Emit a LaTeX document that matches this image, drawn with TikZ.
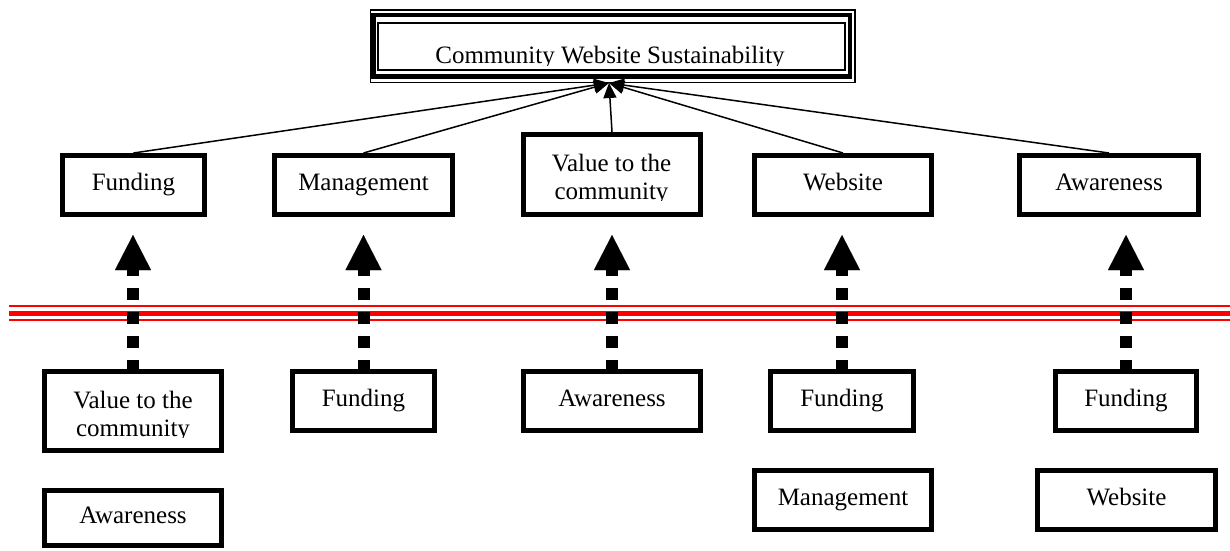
\documentclass[tikz,border=0pt]{standalone}
\usepackage{fontspec}
\setmainfont{Liberation Serif}
\usetikzlibrary{arrows.meta}
\begin{document}
\begin{tikzpicture}[x=1pt,y=-1pt,
  font=\fontsize{25pt}{28pt}\selectfont,
  box/.style={draw=black,line width=5pt,rectangle,inner sep=0pt,
    text height=17pt,text depth=5.5pt},
  txt/.style={inner sep=0pt,anchor=base},
  link/.style={line width=1.5pt,-{Triangle[length=15pt,width=13pt]}},
  dep/.style={line width=12pt,dash pattern=on 12pt off 12pt,dash phase=3pt,
    -{Triangle[length=35pt,width=36pt,line width=0.01pt]}},
  redline/.style={draw=red}
]
\useasboundingbox (0,0) rectangle (1230,550);

% title box (triple frame)
\node[draw=black,line width=1.5pt,minimum width=484.5pt,minimum height=72.5pt,inner sep=0pt]
  (top) at (612.75,46.25) {};
\draw[line width=4.5pt] (373.5,15) rectangle (850,76.7);
\draw[line width=2pt] (377.5,22.8) rectangle (844.5,69.5);
\begin{scope}
  \clip (379,24) rectangle (843,65);
  \node[txt] (toptext) at (610,63) {Community Website Sustainability};
\end{scope}
\coordinate (conv) at (609,83);

% first row
\node[box,minimum width=142pt,minimum height=59pt] (tFund) at (133.5,185) {Funding};
\node[box,minimum width=178pt,minimum height=59pt] (tMan) at (363.5,185) {Management};
\node[box,minimum width=177pt,minimum height=80pt] (tVal) at (612,174.5) {};
\begin{scope}
  \clip (524,135) rectangle (700,200.5);
  \node[txt] (tValtext) at (611.5,171.5) {\begin{tabular}[t]{@{}c@{}}Value to the\\community\end{tabular}};
\end{scope}
\node[box,minimum width=177pt,minimum height=59pt] (tWeb) at (843,185) {Website};
\node[box,minimum width=179pt,minimum height=59pt] (tAwa) at (1109,185) {Awareness};

\draw[link] (tFund.north) -- (conv);
\draw[link] (tMan.north) -- (conv);
\draw[link] (tVal.north) -- (conv);
\draw[link] (tWeb.north) -- (conv);
\draw[link] (tAwa.north) -- (conv);

% red separator
\draw[redline,line width=2pt] (9,306) -- (1230,306);
\draw[redline,line width=5pt] (9,313.5) -- (1230,313.5);
\draw[redline,line width=2pt] (9,319.5) -- (1230,319.5);

% second row
\node[box,minimum width=177pt,minimum height=79pt] (bVal) at (133,411) {};
\begin{scope}
  \clip (45,372) rectangle (221,437.5);
  \node[txt] (bValtext) at (133,408) {\begin{tabular}[t]{@{}c@{}}Value to the\\community\end{tabular}};
\end{scope}
\node[box,minimum width=177pt,minimum height=55pt] (bAwa1) at (133,518) {Awareness};
\node[box,minimum width=142pt,minimum height=59pt] (bFund2) at (363.5,401) {Funding};
\node[box,minimum width=177pt,minimum height=59pt] (bAwa3) at (612,401) {Awareness};
\node[box,minimum width=143pt,minimum height=59pt] (bFund4) at (842,401) {Funding};
\node[box,minimum width=177pt,minimum height=59pt] (bMan4) at (843,500) {Management};
\node[box,minimum width=141pt,minimum height=59pt] (bFund5) at (1126,401) {Funding};
\node[box,minimum width=178pt,minimum height=59pt] (bWeb5) at (1126.5,500) {Website};

\coordinate (a1) at (133,235);
\coordinate (a2) at (363.5,235);
\coordinate (a3) at (612,235);
\coordinate (a4) at (842,235);
\coordinate (a5) at (1126,235);
\draw[dep] (bVal.north) -- (a1);
\draw[dep] (bFund2.north) -- (a2);
\draw[dep] (bAwa3.north) -- (a3);
\draw[dep] (bFund4.north) -- (a4);
\draw[dep] (bFund5.north) -- (a5);
\end{tikzpicture}
\end{document}
